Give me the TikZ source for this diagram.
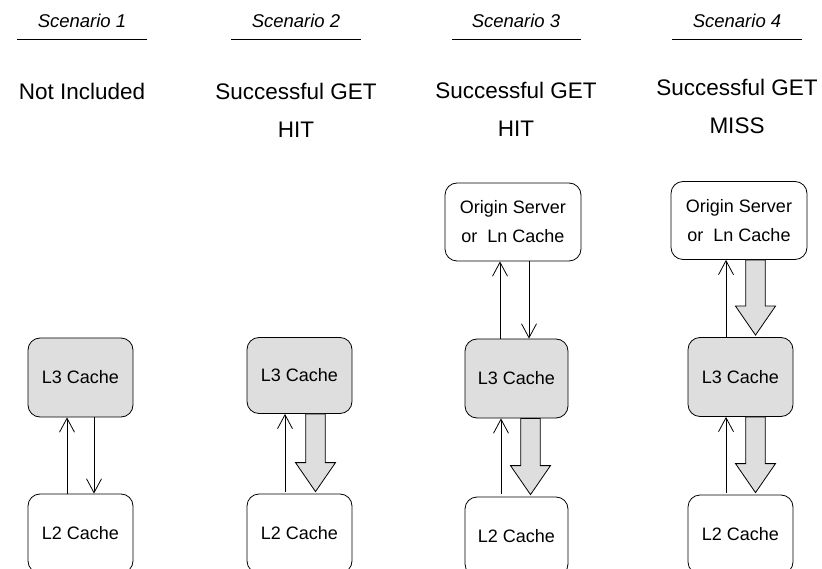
\documentclass[tikz,border=0pt]{standalone}
\usepackage{fontspec}
\setmainfont{Liberation Sans}
\usetikzlibrary{arrows.meta,calc}

\tikzset{
  cachebox/.style={draw, line width=0.8pt, rounded corners=12pt, align=center,
    font=\fontsize{18}{29}\selectfont, inner sep=0pt},
  l3box/.style={cachebox, fill=black!13, minimum width=105pt, minimum height=79pt},
  l2box/.style={cachebox, fill=white, minimum width=105pt, minimum height=79pt},
  originbox/.style={cachebox, fill=white, minimum width=136pt, minimum height=78pt},
  scentitle/.style={font=\fontsize{18.5}{20}\selectfont\itshape},
  scenlabel/.style={font=\fontsize{22.5}{38}\selectfont, align=center, anchor=north},
  rule/.style={line width=0.8pt},
  reqarrow/.style={line width=0.8pt, -{Straight Barb[length=14pt,width=15pt,line width=0.8pt]}},
  fatarrow/.style={draw, line width=0.8pt, fill=black!13, line join=miter},
}

% fat data-transfer arrow from the bottom of node #1 down to the top of node #2,
% centred on horizontal position #3 (pt)
\newcommand\fatdown[3]{%
  \path[fatarrow] let \p1=(#1.south), \p2=(#2.north) in
    (#3pt-9.75pt,\y1) -- (#3pt+9.75pt,\y1) -- (#3pt+9.75pt,\y2+31pt)
    -- (#3pt+20pt,\y2+31pt) -- (#3pt,\y2+2pt) -- (#3pt-20pt,\y2+31pt)
    -- (#3pt-9.75pt,\y2+31pt) -- cycle;}

\begin{document}
\begin{tikzpicture}[x=1pt,y=-1pt]
\useasboundingbox (0,0) rectangle (822,569);
\begin{scope}
\clip (0,0) rectangle (822,569);

% scenario headings
\node[scentitle] (t1) at (82,21) {Scenario 1};
\node[scentitle] (t2) at (296,21) {Scenario 2};
\node[scentitle] (t3) at (516,21) {Scenario 3};
\node[scentitle] (t4) at (737,21) {Scenario 4};
\draw[rule] (17,39) -- (147,39);
\draw[rule] (231,39) -- (361,39);
\draw[rule] (452,39) -- (581,39);
\draw[rule] (672,39) -- (802,39);

\node[scenlabel] (c1) at (82,79.5) {Not Included};
\node[scenlabel] (c2) at (296,79.5) {Successful GET\\HIT};
\node[scenlabel] (c3) at (516,78.5) {Successful GET\\HIT};
\node[scenlabel] (c4) at (737,76) {Successful GET\\MISS};

% scenario 1
\node[l3box] (s1l3) at (80.5,377.5) {L3 Cache};
\node[l2box] (s1l2) at (80.5,533.5) {L2 Cache};
\draw[reqarrow] ($(s1l2.north)+(-13.5,0)$) -- ($(s1l3.south)+(-13.5,0)$);
\draw[reqarrow] ($(s1l3.south)+(13.5,0)$) -- ($(s1l2.north)+(13.5,0)$);

% scenario 2
\node[l3box, minimum height=76pt] (s2l3) at (299.5,375.5) {L3 Cache};
\node[l2box] (s2l2) at (299.5,533.5) {L2 Cache};
\draw[reqarrow] ($(s2l2.north)+(-14.5,-2)$) -- ($(s2l3.south)+(-14.5,0)$);
\fatdown{s2l3}{s2l2}{315.5}

% scenario 3
\node[originbox] (s3o) at (513,222) {Origin Server\\or\ \ Ln Cache};
\node[l3box, minimum width=103pt] (s3l3) at (516.5,378.5) {L3 Cache};
\node[l2box, minimum width=103pt] (s3l2) at (516.5,536.5) {L2 Cache};
\draw[reqarrow] ($(s3l3.north)+(-16.5,0)$) -- ($(s3o.south)+(-13,0)$);
\draw[reqarrow] ($(s3o.south)+(16,0)$) -- ($(s3l3.north)+(12.5,0)$);
\draw[reqarrow] ($(s3l2.north)+(-15.5,-3)$) -- ($(s3l3.south)+(-15.5,0)$);
\fatdown{s3l3}{s3l2}{530.5}

% scenario 4
\node[originbox] (s4o) at (739,220.5) {Origin Server\\or\ \ Ln Cache};
\node[l3box] (s4l3) at (740.5,377) {L3 Cache};
\node[l2box] (s4l2) at (740.5,534.5) {L2 Cache};
\draw[reqarrow] ($(s4l3.north)+(-14.5,0)$) -- ($(s4o.south)+(-13,0)$);
\fatdown{s4o}{s4l3}{755.5}
\draw[reqarrow] ($(s4l2.north)+(-14.5,-2)$) -- ($(s4l3.south)+(-14.5,0)$);
\fatdown{s4l3}{s4l2}{755.5}
\end{scope}
\end{tikzpicture}
\end{document}
